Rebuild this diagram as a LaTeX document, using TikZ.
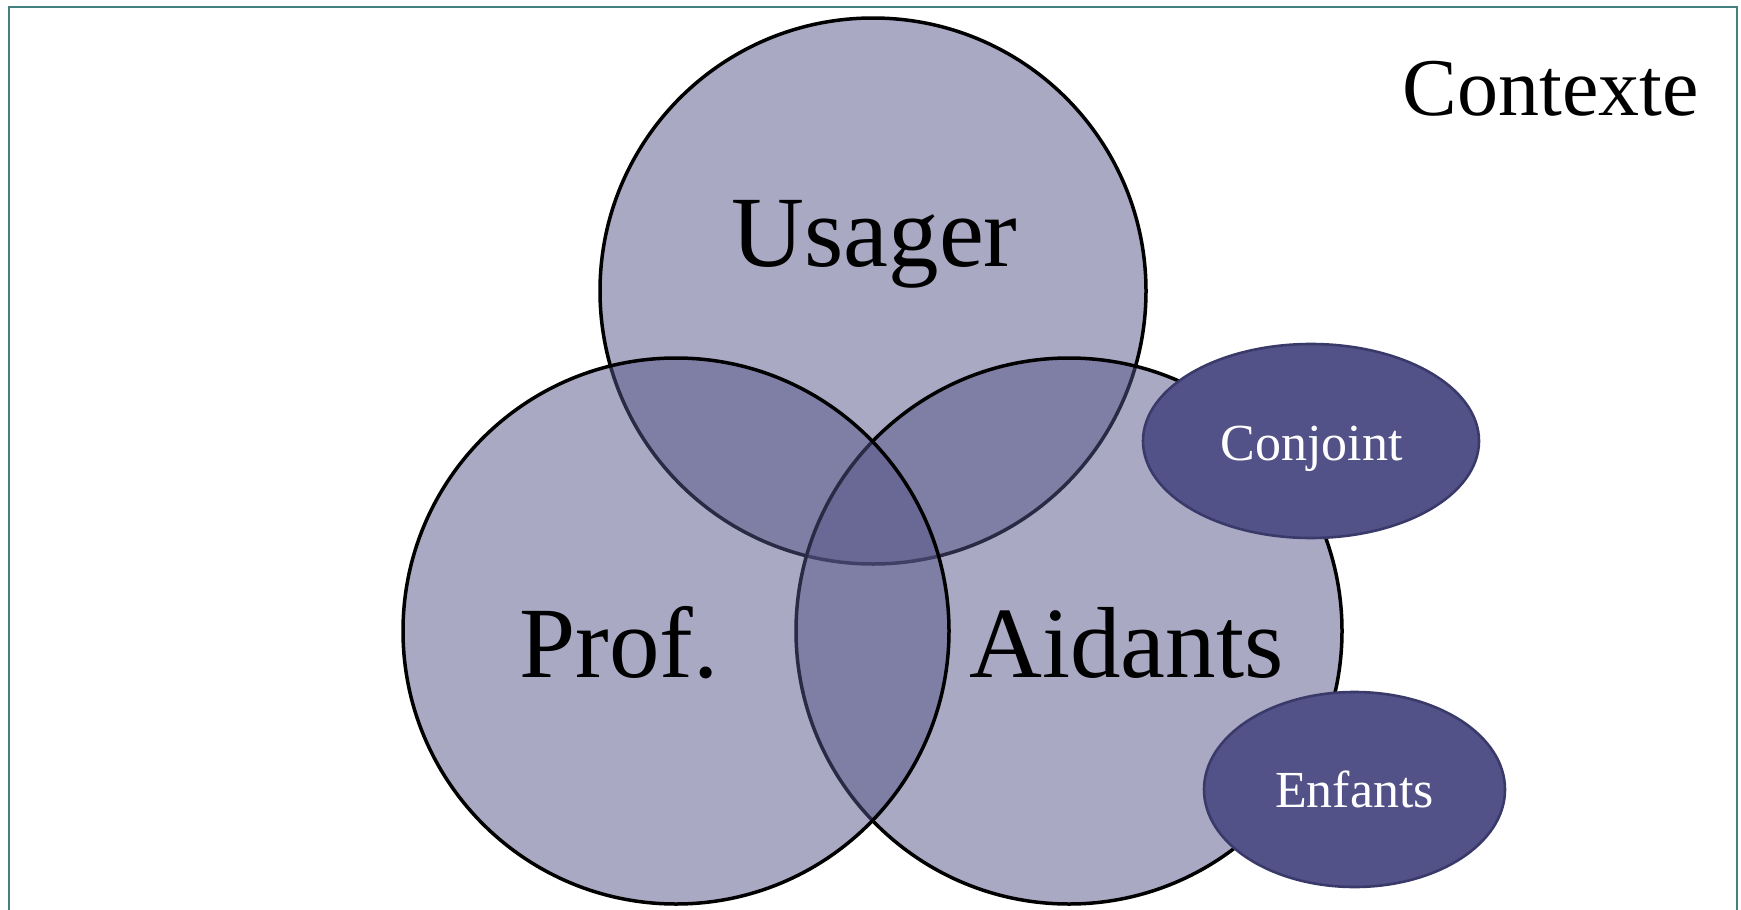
\documentclass[tikz,border=0pt]{standalone}
\usepackage{fontspec}
\setmainfont{Liberation Serif}
\usetikzlibrary{shapes.geometric}
\definecolor{venn}{RGB}{86,85,137}
\definecolor{bubblefill}{RGB}{82,82,136}
\definecolor{bubbleline}{RGB}{58,58,106}
\definecolor{framecol}{RGB}{68,128,128}
\begin{document}
\begin{tikzpicture}[x=1pt,y=-1pt,
  vcircle/.style={circle, draw=black, line width=3.5pt, fill=venn, fill opacity=0.5, draw opacity=1, minimum size=546pt, inner sep=0pt},
  bubble/.style={ellipse, draw=bubbleline, line width=2.6pt, fill=bubblefill, inner sep=0pt},
  biglabel/.style={anchor=base, font=\fontsize{101}{110}\selectfont, text=black},
  smalllabel/.style={anchor=base, font=\fontsize{52}{60}\selectfont, text=white},
  ctxlabel/.style={anchor=base, font=\fontsize{82}{95}\selectfont, text=black}]
\useasboundingbox (0,0) rectangle (1741,910);
\fill[white] (0,0) rectangle (1741,910);
\draw[framecol, line width=2.4pt] (9,915) -- (9,7) -- (1737,7) -- (1737,915);
% Venn circles (order: Usager, Aidants, Prof.)
\node[vcircle] (usager) at (873,291) {};
\node[vcircle] (aidants) at (1069,631) {};
\node[vcircle] (prof) at (676,631) {};
% bubbles
\node[bubble, minimum width=336pt, minimum height=194pt] (conjoint) at (1311,441) {};
\node[bubble, minimum width=301pt, minimum height=195pt] (enfants) at (1354.5,789.5) {};
% labels
\node[ctxlabel] (contexte) at (1551,115) {Contexte};
\node[biglabel] (tusager) at (874.5,266) {Usager};
\node[biglabel] (tprof) at (619,677) {Prof.};
\node[biglabel] (taidants) at (1126.5,677) {Aidants};
\node[smalllabel] (tconjoint) at (1311.5,460) {Conjoint};
\node[smalllabel] (tenfants) at (1354.5,807) {Enfants};
\end{tikzpicture}
\end{document}
